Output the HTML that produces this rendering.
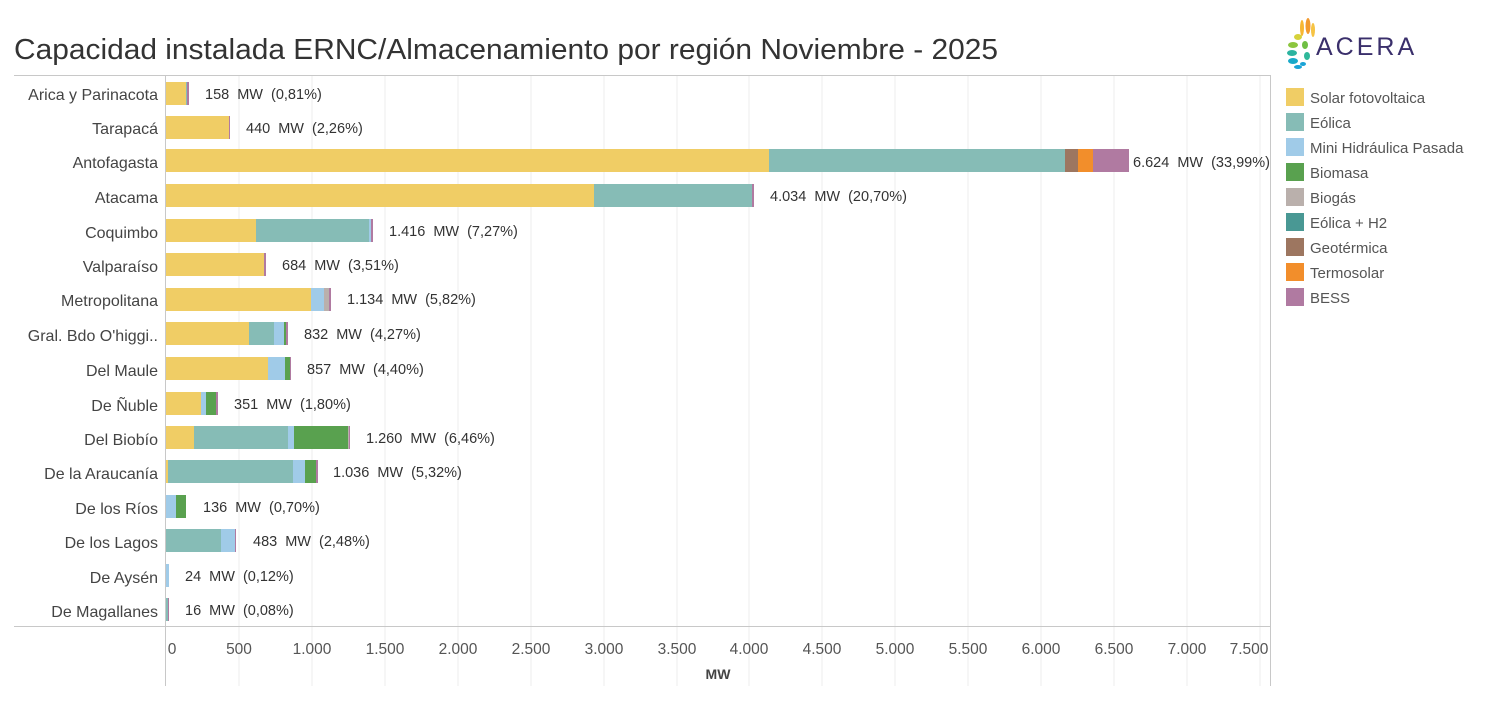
<!DOCTYPE html>
<html><head><meta charset="utf-8"><style>
body{margin:0;background:#fff;}
svg text{font-family:"Liberation Sans","DejaVu Sans",sans-serif;}
</style></head><body>
<svg width="1499" height="699" xmlns="http://www.w3.org/2000/svg">
<text x="14" y="59" font-size="29" fill="#333" textLength="984" lengthAdjust="spacingAndGlyphs">Capacidad instalada ERNC/Almacenamiento por región Noviembre - 2025</text>
<!-- grid -->
<g stroke="#ececec" stroke-width="1">
<line x1="239" y1="75" x2="239" y2="686"/><line x1="312" y1="75" x2="312" y2="686"/><line x1="385" y1="75" x2="385" y2="686"/><line x1="458" y1="75" x2="458" y2="686"/><line x1="531" y1="75" x2="531" y2="686"/><line x1="604" y1="75" x2="604" y2="686"/><line x1="677" y1="75" x2="677" y2="686"/><line x1="749" y1="75" x2="749" y2="686"/><line x1="822" y1="75" x2="822" y2="686"/><line x1="895" y1="75" x2="895" y2="686"/><line x1="968" y1="75" x2="968" y2="686"/><line x1="1041" y1="75" x2="1041" y2="686"/><line x1="1114" y1="75" x2="1114" y2="686"/><line x1="1187" y1="75" x2="1187" y2="686"/><line x1="1260" y1="75" x2="1260" y2="686"/>
</g>
<g stroke="#c8c8c8" stroke-width="1" fill="none">
<line x1="14" y1="75.5" x2="1271" y2="75.5"/>
<line x1="14" y1="626.5" x2="1271" y2="626.5"/>
<line x1="1270.5" y1="75" x2="1270.5" y2="686"/>
<line x1="165.5" y1="75" x2="165.5" y2="686"/>
</g>
<g font-size="16" fill="#444" text-anchor="end">
<text x="158" y="100">Arica y Parinacota</text><text x="158" y="134">Tarapacá</text><text x="158" y="168">Antofagasta</text><text x="158" y="203">Atacama</text><text x="158" y="238">Coquimbo</text><text x="158" y="272">Valparaíso</text><text x="158" y="306">Metropolitana</text><text x="158" y="341">Gral. Bdo O'higgi..</text><text x="158" y="376">Del Maule</text><text x="158" y="411">De Ñuble</text><text x="158" y="445">Del Biobío</text><text x="158" y="479">De la Araucanía</text><text x="158" y="514">De los Ríos</text><text x="158" y="548">De los Lagos</text><text x="158" y="583">De Aysén</text><text x="158" y="617">De Magallanes</text>
</g>
<g>
<rect x="166" y="82" width="20" height="23" fill="#f0cd65"/><rect x="186" y="82" width="1" height="23" fill="#86bcb6"/><rect x="187" y="82" width="2" height="23" fill="#b07aa1"/>
<rect x="166" y="116" width="63" height="23" fill="#f0cd65"/><rect x="229" y="116" width="1" height="23" fill="#b07aa1"/>
<rect x="166" y="149" width="603" height="23" fill="#f0cd65"/><rect x="769" y="149" width="296" height="23" fill="#86bcb6"/><rect x="1065" y="149" width="13" height="23" fill="#9d7660"/><rect x="1078" y="149" width="15" height="23" fill="#f28e2b"/><rect x="1093" y="149" width="36" height="23" fill="#b07aa1"/>
<rect x="166" y="184" width="428" height="23" fill="#f0cd65"/><rect x="594" y="184" width="158" height="23" fill="#86bcb6"/><rect x="752" y="184" width="2" height="23" fill="#b07aa1"/>
<rect x="166" y="219" width="90" height="23" fill="#f0cd65"/><rect x="256" y="219" width="113" height="23" fill="#86bcb6"/><rect x="369" y="219" width="2" height="23" fill="#a0cbe8"/><rect x="371" y="219" width="2" height="23" fill="#b07aa1"/>
<rect x="166" y="253" width="98" height="23" fill="#f0cd65"/><rect x="264" y="253" width="2" height="23" fill="#b07aa1"/>
<rect x="166" y="288" width="145" height="23" fill="#f0cd65"/><rect x="311" y="288" width="13" height="23" fill="#a0cbe8"/><rect x="324" y="288" width="5" height="23" fill="#bab0ac"/><rect x="329" y="288" width="2" height="23" fill="#b07aa1"/>
<rect x="166" y="322" width="83" height="23" fill="#f0cd65"/><rect x="249" y="322" width="25" height="23" fill="#86bcb6"/><rect x="274" y="322" width="10" height="23" fill="#a0cbe8"/><rect x="284" y="322" width="2" height="23" fill="#59a14f"/><rect x="286" y="322" width="2" height="23" fill="#b07aa1"/>
<rect x="166" y="357" width="102" height="23" fill="#f0cd65"/><rect x="268" y="357" width="17" height="23" fill="#a0cbe8"/><rect x="285" y="357" width="5" height="23" fill="#59a14f"/><rect x="290" y="357" width="1" height="23" fill="#b07aa1"/>
<rect x="166" y="392" width="35" height="23" fill="#f0cd65"/><rect x="201" y="392" width="5" height="23" fill="#a0cbe8"/><rect x="206" y="392" width="10" height="23" fill="#59a14f"/><rect x="216" y="392" width="2" height="23" fill="#b07aa1"/>
<rect x="166" y="426" width="28" height="23" fill="#f0cd65"/><rect x="194" y="426" width="94" height="23" fill="#86bcb6"/><rect x="288" y="426" width="6" height="23" fill="#a0cbe8"/><rect x="294" y="426" width="54" height="23" fill="#59a14f"/><rect x="348" y="426" width="1" height="23" fill="#bab0ac"/><rect x="349" y="426" width="1" height="23" fill="#b07aa1"/>
<rect x="166" y="460" width="2" height="23" fill="#f0cd65"/><rect x="168" y="460" width="125" height="23" fill="#86bcb6"/><rect x="293" y="460" width="12" height="23" fill="#a0cbe8"/><rect x="305" y="460" width="11" height="23" fill="#59a14f"/><rect x="316" y="460" width="2" height="23" fill="#b07aa1"/>
<rect x="166" y="495" width="10" height="23" fill="#a0cbe8"/><rect x="176" y="495" width="10" height="23" fill="#59a14f"/>
<rect x="166" y="529" width="55" height="23" fill="#86bcb6"/><rect x="221" y="529" width="14" height="23" fill="#a0cbe8"/><rect x="235" y="529" width="1" height="23" fill="#b07aa1"/>
<rect x="166" y="564" width="3" height="23" fill="#a0cbe8"/>
<rect x="166" y="598" width="2" height="23" fill="#86bcb6"/><rect x="168" y="598" width="1" height="23" fill="#b07aa1"/>
</g>
<g font-size="14.5" fill="#333" word-spacing="4">
<text x="205" y="99">158 MW (0,81%)</text><text x="246" y="133">440 MW (2,26%)</text><text x="1133" y="167">6.624 MW (33,99%)</text><text x="770" y="201">4.034 MW (20,70%)</text><text x="389" y="236">1.416 MW (7,27%)</text><text x="282" y="270">684 MW (3,51%)</text><text x="347" y="304">1.134 MW (5,82%)</text><text x="304" y="339">832 MW (4,27%)</text><text x="307" y="374">857 MW (4,40%)</text><text x="234" y="409">351 MW (1,80%)</text><text x="366" y="443">1.260 MW (6,46%)</text><text x="333" y="477">1.036 MW (5,32%)</text><text x="203" y="512">136 MW (0,70%)</text><text x="253" y="546">483 MW (2,48%)</text><text x="185" y="581">24 MW (0,12%)</text><text x="185" y="615">16 MW (0,08%)</text>
</g>
<g font-size="15.5" fill="#555" text-anchor="middle">
<text x="172" y="654">0</text><text x="239" y="654">500</text><text x="312" y="654">1.000</text><text x="385" y="654">1.500</text><text x="458" y="654">2.000</text><text x="531" y="654">2.500</text><text x="604" y="654">3.000</text><text x="677" y="654">3.500</text><text x="749" y="654">4.000</text><text x="822" y="654">4.500</text><text x="895" y="654">5.000</text><text x="968" y="654">5.500</text><text x="1041" y="654">6.000</text><text x="1114" y="654">6.500</text><text x="1187" y="654">7.000</text><text x="1249" y="654">7.500</text>
<text x="718" y="679" font-weight="bold" font-size="14" fill="#444">MW</text>
</g>
<g>
<ellipse cx="1302" cy="28" rx="2" ry="8" fill="#f7b733"/><ellipse cx="1308" cy="26" rx="2.5" ry="8" fill="#f29a2e"/><ellipse cx="1313" cy="30" rx="2" ry="7" fill="#f6c343"/><ellipse cx="1298" cy="37" rx="4" ry="3" fill="#d6d23a"/><ellipse cx="1293" cy="45" rx="5" ry="3" fill="#8cc63f"/><ellipse cx="1292" cy="53" rx="5" ry="3" fill="#2bb3a0"/><ellipse cx="1293" cy="61" rx="5" ry="3" fill="#19a9c9"/><ellipse cx="1298" cy="67" rx="4" ry="2" fill="#1aa3d6"/><ellipse cx="1305" cy="45" rx="3" ry="4" fill="#6fbf44"/><ellipse cx="1307" cy="56" rx="3" ry="4" fill="#2fb89a"/><ellipse cx="1303" cy="64" rx="3" ry="2" fill="#1aa3d6"/>
<text x="1316" y="55" font-size="25" fill="#3a2f6b" letter-spacing="3">ACERA</text>
</g>
<g font-size="15" fill="#555">
<rect x="1286" y="88" width="18" height="18" fill="#f0cd65"/><text x="1310" y="103">Solar fotovoltaica</text>
<rect x="1286" y="113" width="18" height="18" fill="#86bcb6"/><text x="1310" y="128">Eólica</text>
<rect x="1286" y="138" width="18" height="18" fill="#a0cbe8"/><text x="1310" y="153">Mini Hidráulica Pasada</text>
<rect x="1286" y="163" width="18" height="18" fill="#59a14f"/><text x="1310" y="178">Biomasa</text>
<rect x="1286" y="188" width="18" height="18" fill="#bab0ac"/><text x="1310" y="203">Biogás</text>
<rect x="1286" y="213" width="18" height="18" fill="#499894"/><text x="1310" y="228">Eólica + H2</text>
<rect x="1286" y="238" width="18" height="18" fill="#9d7660"/><text x="1310" y="253">Geotérmica</text>
<rect x="1286" y="263" width="18" height="18" fill="#f28e2b"/><text x="1310" y="278">Termosolar</text>
<rect x="1286" y="288" width="18" height="18" fill="#b07aa1"/><text x="1310" y="303">BESS</text>
</g>
</svg>
</body></html>
